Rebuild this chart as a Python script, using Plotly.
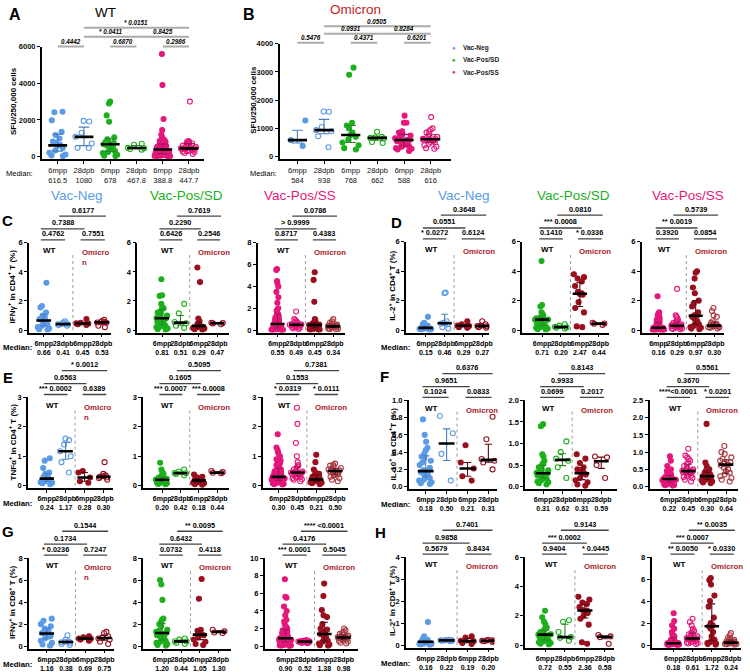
import numpy as np
import plotly.graph_objects as go

W, H = 750, 672
FONT = "Liberation Sans, Arial, Helvetica, sans-serif"
BLUE = "#5B9BE6"
GREEN = "#1CB01C"
PINK = "#E5177B"
DRED = "#9A0F1E"
DRED2 = "#A83A44"
OMI_TXT = "#A81C2A"
DARK = {BLUE: "#4A7CC0", GREEN: "#2A862A", PINK: "#A0145A", DRED: "#5E0A14", DRED2: "#6E1E26"}

# ======================= DATA =======================
# Panel A: WT SFU/250,000 cells
A_neg_6mpp = [2450, 2420, 1980, 1350, 1180, 990, 820, 760, 640, 590, 470, 330, 210, 120, 60, 30]
A_neg_28dpb = [1950, 1920, 1300, 1080, 720, 480, 470]
A_sd_6mpp = [3000, 2900, 2250, 1900, 1050, 950, 800, 750, 700, 680, 676, 600, 500, 400, 300, 250, 200, 100, 50, 30]
A_sd_28dpb = [700, 650, 480, 455, 420, 380]
A_ss_6mpp = [5600, 3900, 2050, 1450, 1200, 1050, 950, 900, 850, 800, 750, 700, 680, 650, 600, 580, 550, 520,
             500, 480, 450, 420, 400, 390, 388, 380, 350, 330, 300, 280, 260, 250, 230, 200, 180, 160, 150,
             130, 120, 100, 90, 80, 60, 50, 40, 30, 20, 10]
A_ss_28dpb = [3000, 850, 820, 800, 780, 750, 720, 700, 650, 600, 560, 520, 500, 450, 448, 446, 440, 420, 400,
              380, 350, 320, 300, 280, 250, 200, 150]
A_ticks = ["6mpp", "28dpb", "6mpp", "28dpb", "6mpp", "28dpb"]
A_medians = ["616.5", "1080", "678", "467.8", "388.8", "447.7"]
A_pvalues = ["0.4442", "0.6870", "0.2986", "* 0.0411", "0.8425", "* 0.0151"]

# Panel B: Omicron SFU/250,000 cells
B_neg_6mpp = [1280, 584, 380]
B_neg_28dpb = [1600, 1590, 1050, 938, 900, 720, 330]
B_sd_6mpp = [3150, 2900, 1200, 1100, 1000, 850, 768, 700, 600, 500, 400, 300, 250]
B_sd_28dpb = [880, 700, 680, 662, 640, 520, 480]
B_ss_6mpp = [1450, 1200, 1200, 900, 850, 800, 750, 700, 650, 600, 590, 586, 550, 500, 450, 400, 380, 350,
             300, 280, 250, 200]
B_ss_28dpb = [1400, 1000, 950, 900, 850, 800, 700, 650, 630, 620, 616, 616, 600, 580, 550, 520, 500, 450,
              400, 350, 300, 280]
B_medians = ["584", "938", "768", "662", "588", "616"]
B_pvalues = ["0.5476", "0.4371", "0.6201", "0.0931", "0.8284", "0.0505"]

CH_ticks = ["6mpp", "28dpb", "6mpp", "28dpb"]

# Panel C: IFNγ+ in CD4+ T (%)
C_neg = [[3.25, 1.65, 1.55, 1.2, 1.0, 0.9, 0.75, 0.68, 0.64, 0.5, 0.4, 0.3, 0.2, 0.1, 0.05, 0.02],
         [0.6, 0.5, 0.45, 0.42, 0.40, 0.38, 0.35, 0.3],
         [0.75, 0.5, 0.46, 0.44, 0.4, 0.35],
         [0.7, 0.6, 0.55, 0.54, 0.52, 0.5, 0.3, 0.2]]
C_neg_med = ["0.66", "0.41", "0.45", "0.53"]
C_neg_p = ["0.6177", "0.7388", "0.4762", "0.7551"]
C_sd = [[3.5, 2.4, 2.35, 1.8, 1.55, 1.5, 1.45, 1.3, 1.2, 1.1, 1.0, 0.9, 0.82, 0.80, 0.7, 0.65, 0.55, 0.5,
         0.4, 0.35, 0.3, 0.25, 0.2, 0.1, 0.05, 0.02],
        [1.8, 1.15, 0.55, 0.47, 0.3, 0.15],
        [4.3, 3.3, 0.8, 0.6, 0.4, 0.35, 0.3, 0.28, 0.25, 0.2, 0.15, 0.1, 0.05, 0.02],
        [0.5, 0.48, 0.46, 0.4]]
C_sd_med = ["0.81", "0.51", "0.29", "0.47"]
C_sd_p = ["0.7619", "0.2290", "0.6426", "0.2546"]
C_ss = [[5.6, 5.5, 4.5, 4.3, 4.0, 3.5, 3.0, 2.5, 2.0, 1.8, 1.7, 1.5, 1.3, 1.2, 1.0, 0.95, 0.9, 0.85, 0.8,
         0.75, 0.7, 0.6, 0.56, 0.55, 0.54, 0.5, 0.45, 0.4, 0.35, 0.3, 0.3, 0.25, 0.2, 0.2, 0.15, 0.15, 0.1,
         0.1, 0.08, 0.05, 0.05, 0.03, 0.02, 0.01, 0.01],
        [1.7, 1.0, 0.9, 0.8, 0.7, 0.65, 0.6, 0.55, 0.52, 0.5, 0.5, 0.49, 0.49, 0.48, 0.45, 0.42, 0.4, 0.38,
         0.35, 0.3, 0.28, 0.25, 0.2, 0.15, 0.1],
        [5.3, 4.6, 2.6, 1.0, 0.9, 0.8, 0.7, 0.6, 0.55, 0.5, 0.48, 0.46, 0.45, 0.44, 0.4, 0.35, 0.3, 0.25,
         0.2, 0.15, 0.1, 0.08, 0.05, 0.03, 0.02],
        [1.0, 0.8, 0.7, 0.6, 0.5, 0.45, 0.4, 0.38, 0.35, 0.34, 0.34, 0.33, 0.3, 0.28, 0.25, 0.2, 0.15, 0.1,
         0.08, 0.05]]
C_ss_med = ["0.55", "0.49", "0.45", "0.34"]
C_ss_p = ["0.0786", "> 0.9999", "0.8717", "0.4383"]

# Panel D: IL-2+ in CD4+ T (%)
D_neg = [[0.9, 0.5, 0.4, 0.3, 0.25, 0.2, 0.18, 0.16, 0.15, 0.14, 0.12, 0.1, 0.08, 0.05, 0.03, 0.02],
         [2.55, 2.5, 0.6, 0.5, 0.45, 0.4, 0.2, 0.1],
         [0.6, 0.4, 0.3, 0.28, 0.2, 0.15],
         [0.6, 0.4, 0.3, 0.27, 0.25, 0.2, 0.15]]
D_neg_med = ["0.15", "0.46", "0.29", "0.27"]
D_neg_p = ["0.3648", "0.0551", "* 0.0272", "0.6124"]
D_sd = [[4.7, 1.7, 1.6, 1.2, 1.1, 1.0, 0.9, 0.85, 0.8, 0.75, 0.72, 0.71, 0.70, 0.68, 0.6, 0.5, 0.45, 0.4,
         0.35, 0.3, 0.25, 0.2, 0.15, 0.1, 0.05, 0.02],
        [0.4, 0.3, 0.22, 0.18, 0.15, 0.1],
        [3.8, 3.6, 3.5, 3.3, 3.0, 2.6, 2.5, 2.45, 2.4, 1.9, 1.5, 1.2, 0.25, 0.2],
        [0.5, 0.45, 0.43, 0.35]]
D_sd_med = ["0.71", "0.20", "2.47", "0.44"]
D_sd_p = ["0.0810", "*** 0.0008", "0.1410", "* 0.0336"]
D_ss = [[2.3, 1.2, 1.1, 1.1, 1.0, 1.0, 0.9, 0.8, 0.7, 0.6, 0.5, 0.45, 0.4, 0.35, 0.3, 0.28, 0.25, 0.22,
         0.2, 0.18, 0.17, 0.16, 0.16, 0.15, 0.14, 0.13, 0.12, 0.1, 0.1, 0.08, 0.07, 0.06, 0.05, 0.05, 0.04,
         0.03, 0.02, 0.02, 0.01, 0.01],
        [2.8, 1.0, 0.9, 0.8, 0.7, 0.6, 0.55, 0.5, 0.45, 0.4, 0.35, 0.32, 0.3, 0.29, 0.28, 0.27, 0.25, 0.22,
         0.2, 0.18, 0.15, 0.12, 0.1, 0.08, 0.05],
        [4.0, 3.9, 3.5, 2.9, 2.5, 2.0, 1.8, 1.6, 1.2, 1.0, 0.97, 0.9, 0.8, 0.6, 0.5, 0.4, 0.3, 0.2, 0.15,
         0.1, 0.05],
        [1.5, 1.3, 1.0, 0.9, 0.6, 0.5, 0.45, 0.4, 0.35, 0.32, 0.30, 0.3, 0.28, 0.25, 0.22, 0.2, 0.18, 0.15,
         0.1]]
D_ss_med = ["0.16", "0.29", "0.97", "0.30"]
D_ss_p = ["0.5739", "** 0.0019", "0.3920", "0.0854"]

# Panel E: TNFα+ in CD4+ T (%)
E_neg = [[0.93, 0.85, 0.6, 0.45, 0.4, 0.35, 0.3, 0.25, 0.24, 0.22, 0.2, 0.15, 0.12, 0.1, 0.08, 0.05],
         [1.6, 1.55, 1.4, 1.17, 1.0, 0.8, 0.45],
         [0.5, 0.45, 0.28, 0.15, 0.1],
         [0.8, 0.4, 0.35, 0.32, 0.30, 0.28, 0.25, 0.2]]
E_neg_med = ["0.24", "1.17", "0.28", "0.30"]
E_neg_p = ["* 0.0012", "0.6563", "*** 0.0002", "0.6389"]
E_sd = [[0.78, 0.55, 0.45, 0.4, 0.35, 0.3, 0.28, 0.25, 0.23, 0.22, 0.21, 0.2, 0.2, 0.19, 0.18, 0.17, 0.15,
         0.14, 0.12, 0.1, 0.1, 0.08, 0.06, 0.05],
        [0.55, 0.48, 0.43, 0.42, 0.4, 0.35],
        [0.38, 0.3, 0.28, 0.25, 0.2, 0.19, 0.18, 0.17, 0.15, 0.12, 0.1, 0.08, 0.05, 0.03],
        [0.5, 0.46, 0.44, 0.42]]
E_sd_med = ["0.20", "0.42", "0.18", "0.44"]
E_sd_p = ["0.5095", "0.1605", "*** 0.0007", "*** 0.0008"]
E_ss = [[1.75, 1.3, 1.2, 1.1, 1.0, 0.9, 0.85, 0.8, 0.75, 0.7, 0.65, 0.6, 0.55, 0.5, 0.48, 0.45, 0.42, 0.4,
         0.38, 0.36, 0.34, 0.32, 0.31, 0.30, 0.30, 0.29, 0.28, 0.26, 0.25, 0.24, 0.22, 0.2, 0.19, 0.18, 0.17,
         0.16, 0.15, 0.14, 0.12, 0.1, 0.1, 0.08, 0.06, 0.05, 0.04],
        [2.65, 2.1, 1.45, 1.0, 0.8, 0.7, 0.65, 0.6, 0.55, 0.5, 0.48, 0.46, 0.45, 0.45, 0.44, 0.42, 0.4, 0.38,
         0.35, 0.32, 0.3, 0.28, 0.25, 0.22, 0.2, 0.15],
        [1.05, 0.8, 0.55, 0.45, 0.4, 0.35, 0.3, 0.28, 0.25, 0.22, 0.21, 0.2, 0.18, 0.17, 0.15, 0.14, 0.12,
         0.1, 0.08, 0.05],
        [0.75, 0.7, 0.68, 0.65, 0.6, 0.58, 0.55, 0.52, 0.5, 0.5, 0.48, 0.45, 0.42, 0.4, 0.38, 0.35, 0.3,
         0.25, 0.2, 0.15]]
E_ss_med = ["0.30", "0.45", "0.21", "0.50"]
E_ss_p = ["0.7381", "0.1553", "* 0.0319", "* 0.0111"]

# Panel F: IL-10+ in CD4+ T (%)
F_neg = [[0.78, 0.6, 0.52, 0.45, 0.42, 0.38, 0.35, 0.33, 0.3, 0.28, 0.25, 0.22, 0.19, 0.18, 0.17, 0.15,
          0.14, 0.12, 0.1, 0.08, 0.07, 0.05, 0.04, 0.03],
         [0.82, 0.62, 0.38, 0.07],
         [0.48, 0.28, 0.21, 0.12, 0.07],
         [0.81, 0.55, 0.32, 0.30, 0.28, 0.2]]
F_neg_med = ["0.18", "0.50", "0.21", "0.31"]
F_neg_p = ["0.6376", "0.9651", "0.1024", "0.0833"]
F_sd = [[1.45, 1.4, 0.75, 0.7, 0.6, 0.55, 0.5, 0.45, 0.4, 0.38, 0.35, 0.32, 0.31, 0.30, 0.28, 0.26, 0.25,
         0.22, 0.2, 0.18, 0.15, 0.12, 0.1, 0.08, 0.05],
        [1.05, 0.8, 0.65, 0.6, 0.45, 0.2],
        [0.75, 0.65, 0.55, 0.45, 0.4, 0.35, 0.32, 0.3, 0.28, 0.2, 0.15, 0.1, 0.05, 0.02],
        [0.7, 0.68, 0.5, 0.2]]
F_sd_med = ["0.31", "0.62", "0.31", "0.59"]
F_sd_p = ["0.8143", "0.9933", "0.0699", "0.2017"]
F_ss = [[0.88, 0.75, 0.6, 0.5, 0.45, 0.4, 0.38, 0.35, 0.33, 0.3, 0.28, 0.26, 0.25, 0.24, 0.23, 0.22, 0.22,
         0.21, 0.2, 0.19, 0.18, 0.17, 0.16, 0.15, 0.14, 0.13, 0.12, 0.1, 0.09, 0.08, 0.06, 0.05, 0.04, 0.03],
        [1.1, 0.9, 0.85, 0.8, 0.75, 0.7, 0.65, 0.6, 0.55, 0.5, 0.48, 0.46, 0.45, 0.45, 0.44, 0.42, 0.4, 0.38,
         0.35, 0.32, 0.3, 0.28, 0.25, 0.2, 0.15],
        [1.82, 0.7, 0.6, 0.5, 0.45, 0.4, 0.35, 0.32, 0.31, 0.3, 0.29, 0.28, 0.25, 0.22, 0.2, 0.18, 0.15, 0.12,
         0.1],
        [1.18, 1.0, 0.95, 0.85, 0.8, 0.75, 0.7, 0.66, 0.64, 0.62, 0.55, 0.5, 0.45, 0.4, 0.35, 0.3, 0.25, 0.2,
         0.15]]
F_ss_med = ["0.22", "0.45", "0.30", "0.64"]
F_ss_p = ["0.5561", "0.3670", "****<0.0001", "* 0.0201"]

# Panel G: IFNγ+ in CD8+ T (%)
G_neg = [[2.5, 2.3, 2.0, 1.8, 1.6, 1.4, 1.2, 1.16, 1.1, 1.0, 0.9, 0.7, 0.5, 0.3, 0.15, 0.05],
         [1.0, 0.6, 0.45, 0.4, 0.36, 0.3, 0.2, 0.1],
         [0.9, 0.8, 0.7, 0.68, 0.6, 0.5],
         [1.3, 1.2, 0.9, 0.8, 0.7, 0.6, 0.4, 0.2]]
G_neg_med = ["1.16", "0.38", "0.69", "0.75"]
G_neg_p = ["0.1544", "0.1734", "* 0.0236", "0.7247"]
G_sd = [[6.0, 5.6, 4.2, 2.5, 2.4, 2.2, 2.0, 1.8, 1.5, 1.4, 1.3, 1.2, 1.2, 1.1, 1.0, 0.9, 0.8, 0.6, 0.5, 0.4,
         0.3, 0.2, 0.1, 0.05],
        [0.7, 0.6, 0.45, 0.43, 0.3, 0.2],
        [6.1, 4.3, 1.5, 1.4, 1.2, 1.1, 1.05, 1.0, 0.8, 0.6, 0.4, 0.2, 0.1],
        [1.5, 1.35, 1.25, 1.2]]
G_sd_med = ["1.20", "0.44", "1.05", "1.30"]
G_sd_p = ["** 0.0095", "0.6432", "0.0732", "0.4118"]
G_ss = [[7.6, 5.6, 5.5, 4.5, 4.0, 3.5, 3.0, 2.8, 2.5, 2.2, 2.0, 1.8, 1.6, 1.5, 1.4, 1.3, 1.2, 1.1, 1.0, 0.95,
         0.92, 0.9, 0.9, 0.88, 0.85, 0.8, 0.75, 0.7, 0.65, 0.6, 0.55, 0.5, 0.45, 0.4, 0.35, 0.3, 0.25, 0.2,
         0.15, 0.1, 0.08, 0.05, 0.02],
        [0.7, 0.65, 0.6, 0.58, 0.56, 0.55, 0.54, 0.53, 0.52, 0.52, 0.51, 0.5, 0.5, 0.49, 0.48, 0.46, 0.45,
         0.42, 0.4, 0.38, 0.35],
        [7.1, 5.7, 4.1, 3.5, 3.3, 2.5, 2.0, 1.9, 1.6, 1.4, 1.38, 1.3, 1.0, 0.8, 0.6, 0.5, 0.3, 0.2, 0.1, 0.05],
        [2.0, 1.8, 1.6, 1.5, 1.4, 1.3, 1.2, 1.1, 1.05, 1.0, 0.98, 0.98, 0.95, 0.9, 0.85, 0.8, 0.75, 0.7, 0.6,
         0.5, 0.4, 0.3]]
G_ss_med = ["0.90", "0.52", "1.38", "0.98"]
G_ss_p = ["**** <0.0001", "0.4176", "*** 0.0001", "0.5045"]

# Panel H: IL-2+ in CD8+ T (%)
H_neg = [[1.05, 0.4, 0.3, 0.25, 0.22, 0.2, 0.18, 0.17, 0.15, 0.12, 0.1, 0.08, 0.06, 0.05, 0.03, 0.02],
         [0.25, 0.24, 0.23, 0.22, 0.22, 0.21, 0.2, 0.18],
         [0.4, 0.35, 0.2, 0.18, 0.1, 0.05],
         [0.25, 0.22, 0.21, 0.2, 0.19, 0.18, 0.15]]
H_neg_med = ["0.16", "0.22", "0.19", "0.20"]
H_neg_p = ["0.7401", "0.9858", "0.5679", "0.8434"]
H_sd = [[2.35, 1.9, 1.6, 1.4, 1.2, 1.1, 1.0, 0.9, 0.8, 0.75, 0.73, 0.72, 0.71, 0.7, 0.6, 0.5, 0.45, 0.4,
         0.35, 0.3, 0.25, 0.2, 0.15, 0.1, 0.05],
        [1.7, 1.6, 0.9, 0.55, 0.5, 0.3],
        [3.3, 3.1, 2.9, 2.8, 2.6, 2.4, 2.36, 2.3, 2.2, 2.0, 1.8, 1.4, 0.2, 0.1],
        [0.7, 0.6, 0.55, 0.1]]
H_sd_med = ["0.72", "0.55", "2.36", "0.58"]
H_sd_p = ["0.9143", "*** 0.0002", "0.9404", "* 0.0445"]
H_ss = [[2.9, 2.2, 1.8, 1.5, 1.2, 1.0, 0.9, 0.8, 0.7, 0.6, 0.5, 0.45, 0.4, 0.35, 0.3, 0.28, 0.25, 0.22,
         0.2, 0.18, 0.18, 0.17, 0.16, 0.15, 0.14, 0.12, 0.1, 0.1, 0.08, 0.06, 0.05, 0.04, 0.03, 0.02],
        [2.4, 2.1, 1.8, 1.5, 1.3, 1.2, 1.1, 1.0, 0.9, 0.8, 0.7, 0.65, 0.62, 0.61, 0.6, 0.55, 0.5, 0.45, 0.4,
         0.35, 0.3, 0.25, 0.2, 0.15, 0.1],
        [6.1, 5.9, 5.5, 4.5, 4.0, 3.5, 2.5, 2.0, 1.8, 1.72, 1.5, 1.2, 0.8, 0.5, 0.3, 0.2, 0.15, 0.1, 0.05],
        [1.1, 0.9, 0.7, 0.6, 0.5, 0.45, 0.4, 0.35, 0.3, 0.28, 0.25, 0.24, 0.22, 0.2, 0.18, 0.15, 0.12, 0.1,
         0.08, 0.05]]
H_ss_med = ["0.18", "0.61", "1.72", "0.24"]
H_ss_p = ["** 0.0035", "*** 0.0007", "** 0.0050", "* 0.0330"]

# ======================= LAYOUT SPECS (pixels) =======================
# (y-axis x, first group x, group spacing, axis right end)
COLS = {
    "C_neg": (29, 44, 19.5, 112), "C_sd": (138, 163, 18.5, 230), "C_ss": (259, 279, 18.7, 347),
    "E_neg": (28, 47, 19, 114), "E_sd": (144, 163, 18.5, 230), "E_ss": (264, 280, 19, 350),
    "G_neg": (29, 47, 19.3, 115), "G_sd": (144, 163, 19, 232), "G_ss": (266, 287, 19.5, 360),
    "D_neg": (408, 428, 19, 492), "D_sd": (525, 545, 19, 612), "D_ss": (645, 662, 18.7, 728),
    "F_neg": (411, 428, 21, 500), "F_sd": (528, 546, 19.5, 620), "F_ss": (653, 673, 19, 742),
    "H_neg": (408, 428, 21, 497), "H_sd": (528, 548, 20, 617), "H_ss": (655, 677, 19.3, 745),
}
ROWS = {"C": (241, 329), "D": (240, 329), "E": (397, 486), "F": (400, 487), "G": (559, 648), "H": (558, 647)}
YSPEC = {
    "C": [(6, [0, 2, 4, 6], None), (6, [0, 2, 4, 6], None), (8, [0, 2, 4, 6, 8], None)],
    "D": [(6, [0, 2, 4, 6], None), (6, [0, 2, 4, 6], None), (6, [0, 2, 4, 6], None)],
    "E": [(3, [0, 1, 2, 3], None), (3, [0, 1, 2, 3], None), (3, [0, 1, 2, 3], None)],
    "F": [(1.0, [0, 0.2, 0.4, 0.6, 0.8, 1.0], ".1f"), (2.0, [0, 0.5, 1.0, 1.5, 2.0], ".1f"),
          (2.5, [0, 0.5, 1.0, 1.5, 2.0, 2.5], ".1f")],
    "G": [(8, [0, 2, 4, 6, 8], None), (8, [0, 2, 4, 6, 8], None), (10, [0, 2, 4, 6, 8, 10], None)],
    "H": [(4, [0, 1, 2, 3, 4], None), (6, [0, 2, 4, 6], None), (8, [0, 2, 4, 6, 8], None)],
}
YTITLES = {
    "C": "IFNγ<sup>+</sup> in CD4<sup>+</sup> T (%)",
    "D": "IL-2<sup>+</sup> in CD4<sup>+</sup> T (%)",
    "E": "TNFα<sup>+</sup> in CD4<sup>+</sup> T (%)",
    "F": "IL-10<sup>+</sup> in CD4<sup>+</sup>T (%)",
    "G": "IFNγ<sup>+</sup> in CD8<sup>+</sup> T (%)",
    "H": "IL-2<sup>+</sup> in CD8<sup>+</sup> T (%)",
}
PANEL_DATA = {
    "C": [(C_neg, C_neg_med, C_neg_p), (C_sd, C_sd_med, C_sd_p), (C_ss, C_ss_med, C_ss_p)],
    "D": [(D_neg, D_neg_med, D_neg_p), (D_sd, D_sd_med, D_sd_p), (D_ss, D_ss_med, D_ss_p)],
    "E": [(E_neg, E_neg_med, E_neg_p), (E_sd, E_sd_med, E_sd_p), (E_ss, E_ss_med, E_ss_p)],
    "F": [(F_neg, F_neg_med, F_neg_p), (F_sd, F_sd_med, F_sd_p), (F_ss, F_ss_med, F_ss_p)],
    "G": [(G_neg, G_neg_med, G_neg_p), (G_sd, G_sd_med, G_sd_p), (G_ss, G_ss_med, G_ss_p)],
    "H": [(H_neg, H_neg_med, H_neg_p), (H_sd, H_sd_med, H_sd_p), (H_ss, H_ss_med, H_ss_p)],
}
LETTER_POS = {"A": (15, 11), "B": (250, 11), "C": (8, 218), "D": (399, 220), "E": (8, 377),
              "F": (387, 376), "G": (8, 532), "H": (383, 533)}

fig = go.Figure()
annotations = []
shapes = []
axes = {}


def K(idx):
    return "" if idx == 1 else str(idx)


def px_y(p):
    return 1 - p / H


def make_axes(idx, col, row, ymax, yticks, yfmt, ticktext, tfont, yfont, pad=2.5):
    ax, g0, sp, right = col
    ytop, ybot = row
    k = K(idx)
    axes["xaxis" + k] = dict(domain=[ax / W, right / W], range=[(ax - g0) / sp, (right - g0) / sp],
                             anchor="y" + k, showline=True, linecolor="black", linewidth=1.5,
                             ticks="outside", ticklen=3, tickwidth=1.2, tickcolor="black", tickangle=0,
                             tickmode="array", tickvals=list(range(len(ticktext))), ticktext=ticktext,
                             tickfont=tfont, showgrid=False, zeroline=False, fixedrange=True)
    yd = dict(domain=[px_y(ybot + pad), px_y(ytop)], range=[-ymax * pad / (ybot - ytop), ymax],
              anchor="x" + k, showline=True, linecolor="black", linewidth=1.5, ticks="outside",
              ticklen=3, tickwidth=1.2, tickcolor="black", tickmode="array", tickvals=yticks,
              tickfont=yfont, showgrid=False, zeroline=False, fixedrange=True)
    if yfmt:
        yd["tickformat"] = yfmt
    axes["yaxis" + k] = yd


def add_groups(idx, groups, colors, filled, medians, msize, half, cap):
    k = K(idx)
    for i, (vals, col, fl) in enumerate(zip(groups, colors, filled)):
        fig.add_trace(go.Box(x=[i] * len(vals), y=vals, xaxis="x" + k, yaxis="y" + k,
                             boxpoints="all", jitter=0.9, pointpos=0, width=0.85,
                             fillcolor="rgba(0,0,0,0)", line=dict(width=0, color="rgba(0,0,0,0)"),
                             marker=dict(symbol="circle" if fl else "circle-open", size=msize, color=col,
                                         line=dict(width=1.1, color=col)),
                             hoverinfo="skip", showlegend=False))
    for i, (vals, col, med) in enumerate(zip(groups, colors, medians)):
        q1, q3 = np.percentile(vals, [25, 75])
        fig.add_trace(go.Scatter(x=[i, i, None, i - cap, i + cap, None, i - cap, i + cap],
                                 y=[q1, q3, None, q1, q1, None, q3, q3], mode="lines",
                                 line=dict(color=DARK[col], width=1.1), xaxis="x" + k, yaxis="y" + k,
                                 hoverinfo="skip", showlegend=False))
        m = float(med)
        fig.add_trace(go.Scatter(x=[i - half, i + half], y=[m, m], mode="lines",
                                 line=dict(color="black", width=2.6), xaxis="x" + k, yaxis="y" + k,
                                 hoverinfo="skip", showlegend=False))


def bracket(idx, x0, x1, ypx, text, font, color, lw):
    k = K(idx)
    shapes.append(dict(type="line", xref="x" + k, yref="paper", x0=x0, x1=x1, y0=px_y(ypx), y1=px_y(ypx),
                       line=dict(color=color, width=lw)))
    annotations.append(dict(xref="x" + k, yref="paper", x=(x0 + x1) / 2, y=px_y(ypx - 0.5),
                            yanchor="bottom", xanchor="center", text=text, showarrow=False, font=font,
                            borderpad=0))


def text(x, y, s, size, color="black", angle=0, xanchor="center", yanchor="middle", align="center"):
    annotations.append(dict(xref="paper", yref="paper", x=x / W, y=px_y(y), text=s, showarrow=False,
                            font=dict(family=FONT, size=size, color=color), textangle=angle,
                            xanchor=xanchor, yanchor=yanchor, align=align))


# ---------------- Panels A and B ----------------
ab_tick_font = dict(family=FONT, size=7.5, color="#111111")
ab_y_font = dict(family=FONT, size=7.5, color="#111111", weight="bold")
ab_colors = [BLUE, BLUE, GREEN, GREEN, PINK, PINK]
ab_filled = [True, False, True, False, True, False]
pfont = dict(family=FONT, size=6.3, color="black", style="italic", weight="bold")

A_groups = [A_neg_6mpp, A_neg_28dpb, A_sd_6mpp, A_sd_28dpb, A_ss_6mpp, A_ss_28dpb]
make_axes(1, (42, 58, 26.4, 205), (43, 154), 6000, [0, 2000, 4000, 6000], None,
          [f"{t}<br>{m}" for t, m in zip(A_ticks, A_medians)], ab_tick_font, ab_y_font)
add_groups(1, A_groups, ab_colors, ab_filled, A_medians, 5, 0.36, 0.2)
A_brk = [(0, 1, 43), (2, 3, 43), (4, 5, 43), (1, 3, 33), (3, 5, 33), (1, 5, 24)]
for (a, b, y), p in zip(A_brk, A_pvalues):
    bracket(1, a, b, y, p, pfont, "#AAAAAA", 2)

B_groups = [B_neg_6mpp, B_neg_28dpb, B_sd_6mpp, B_sd_28dpb, B_ss_6mpp, B_ss_28dpb]
make_axes(2, (281, 299, 26.8, 453), (40, 154), 4000, [0, 1000, 2000, 3000, 4000], None,
          [f"{t}<br>{m}" for t, m in zip(A_ticks, B_medians)], ab_tick_font, ab_y_font)
add_groups(2, B_groups, ab_colors, ab_filled, B_medians, 5, 0.36, 0.2)
B_brk = [(0, 1, 39), (2, 3, 39), (4, 5, 39), (1, 3, 30), (3, 5, 30), (1, 5, 22.5)]
for (a, b, y), p in zip(B_brk, B_pvalues):
    bracket(2, a, b, y, p, pfont, "#AAAAAA", 2)

text(106, 9, "WT", 13.5)
text(357, 5.5, "Omicron", 13.5, "#C41E24")
text(13, 98, "<b>SFU/250,000 cells</b>", 8, angle=-90)
text(254, 97, "<b>SFU/250,000 cells</b>", 8, angle=-90)
text(20, 171, "Median:", 7.5)
text(265, 171, "Median:", 7.5)
for j, (lab, col) in enumerate([("Vac-Neg", BLUE), ("Vac-Pos/SD", GREEN), ("Vac-Pos/SS", PINK)]):
    text(456, 44 + 12.5 * j, "●", 6, col)
    text(463, 44 + 12.5 * j, f"<b>{lab}</b>", 6.5, "#222222", xanchor="left")

# ---------------- Panels C-H ----------------
ch_tick_font = dict(family=FONT, size=7, color="black", weight="bold")
ch_y_font = dict(family=FONT, size=7.5, color="black", weight="bold")
ch_pfont = dict(family=FONT, size=7.3, color="black", weight="bold")
col_names = ["neg", "sd", "ss"]
col_colors = [[BLUE, BLUE, DRED, DRED], [GREEN, GREEN, DRED, DRED], [PINK, PINK, DRED, DRED2]]
ch_filled = [True, False, True, False]

idx = 3
for row in ["C", "D", "E", "F", "G", "H"]:
    ytop, ybot = ROWS[row]
    for c in range(3):
        col = COLS[f"{row}_{col_names[c]}"]
        ymax, yticks, yfmt = YSPEC[row][c]
        groups, meds, pvals = PANEL_DATA[row][c]
        make_axes(idx, col, ROWS[row], ymax, yticks, yfmt,
                  [f"{t}<br>{m}" for t, m in zip(CH_ticks, meds)], ch_tick_font, ch_y_font)
        add_groups(idx, groups, col_colors[c], ch_filled, meds, 5, 0.38, 0.18)
        k = K(idx)
        # dashed separator between WT and Omicron
        shapes.append(dict(type="line", xref="x" + k, yref="y" + k, x0=1.5, x1=1.5, y0=0, y1=ymax * 0.88,
                           line=dict(color="#9A9A9A", width=1, dash="dot")))
        # brackets: top, mid, WT, Omicron
        bracket(idx, 0.8, 3.2, ytop - 27, pvals[0], ch_pfont, "#444444", 1.3)
        bracket(idx, -0.15, 2.1, ytop - 14, pvals[1], ch_pfont, "#444444", 1.3)
        bracket(idx, -0.15, 1.1, ytop - 3, pvals[2], ch_pfont, "#444444", 1.3)
        bracket(idx, 1.9, 3.15, ytop - 3, pvals[3], ch_pfont, "#444444", 1.3)
        annotations.append(dict(xref="x" + k, yref="paper", x=0.3, y=px_y(ytop + 8), text="<b>WT</b>",
                                showarrow=False, font=dict(family=FONT, size=8, color="black"),
                                xanchor="center", yanchor="middle"))
        left_col_first = (row in ("C", "E", "G")) and c == 0
        omi = "<b>Omicro<br>n</b>" if left_col_first else "<b>Omicron</b>"
        annotations.append(dict(xref="x" + k, yref="paper", x=1.85, y=px_y(ytop + 3.5), text=omi,
                                showarrow=False, font=dict(family=FONT, size=7.8, color=OMI_TXT),
                                xanchor="left", yanchor="top", align="left"))
        idx += 1
    # row-level labels
    left = row in ("C", "E", "G")
    text(12 if left else 394, (ytop + ybot) / 2, f"<b>{YTITLES[row]}</b>", 8, angle=-90)
    text(18 if left else 398, ybot + 18, "<b>Median:</b>", 7.8)

# column headers
for x, lab, colr in [(77, "Vac-Neg", BLUE), (187, "Vac-Pos/SD", GREEN), (302, "Vac-Pos/SS", PINK),
                     (466, "Vac-Neg", BLUE), (577, "Vac-Pos/SD", GREEN), (692, "Vac-Pos/SS", PINK)]:
    text(x, 193, lab, 13.5, colr)

for L, (x, y) in LETTER_POS.items():
    text(x, y, f"<b>{L}</b>", 16 if L in "AB" else 15)

fig.update_layout(**axes, annotations=annotations, shapes=shapes, width=W, height=H,
                  margin=dict(l=0, r=0, t=0, b=0), paper_bgcolor="white", plot_bgcolor="white",
                  showlegend=False, font=dict(family=FONT, color="black"), boxmode="overlay")

fig.write_html("out.html", config={"displayModeBar": False},
               post_script="document.body.style.margin='0px';")
